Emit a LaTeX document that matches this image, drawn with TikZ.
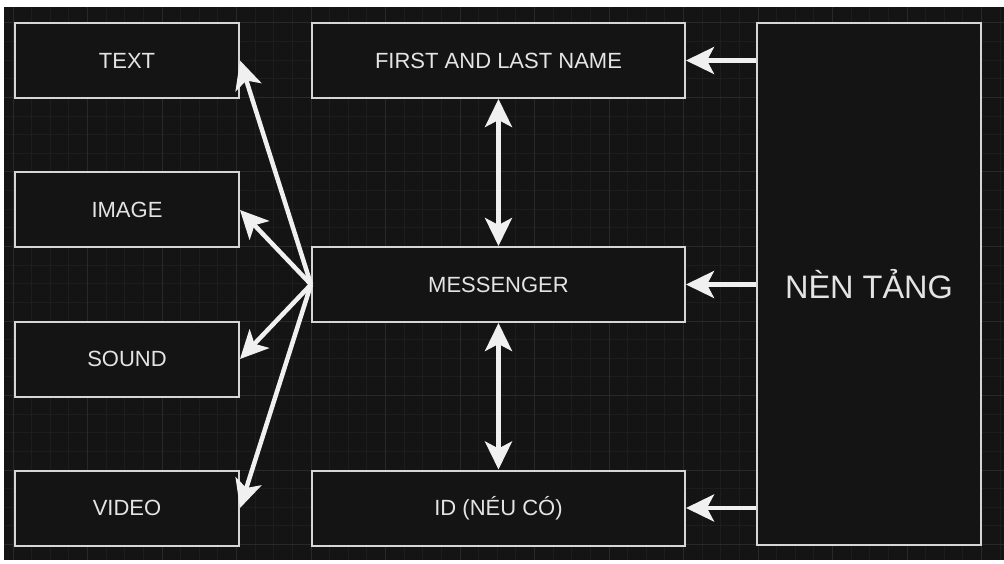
\documentclass[tikz,border=0pt]{standalone}
\usepackage{fontspec}
\setmainfont{Liberation Sans}
\usetikzlibrary{arrows.meta}

\definecolor{bgdark}{HTML}{141414}
\definecolor{gridminor}{HTML}{1D1D1D}
\definecolor{gridmajor}{HTML}{292929}
\definecolor{boxline}{HTML}{D6D6D6}
\definecolor{labelgray}{HTML}{E4E4E4}
\definecolor{arrowwhite}{HTML}{F0F0F0}

\tikzset{
    box/.style={draw=boxline, line width=2pt, fill=bgdark, text=labelgray,
        minimum width=224pt, minimum height=75pt, inner sep=0pt,
        font=\fontsize{22}{26}\selectfont},
    widebox/.style={box, minimum width=373pt},
    tallbox/.style={box, minimum height=522pt, font=\fontsize{32.5}{38}\selectfont},
    tip/.tip={Stealth[length=28pt, width=27pt, inset=7pt]},
    arr/.style={draw=arrowwhite, line width=4.5pt, -tip},
    darr/.style={draw=arrowwhite, line width=4.5pt, tip-tip}
}

\begin{document}
\begin{tikzpicture}[x=1pt, y=-1pt]
    \useasboundingbox (0,0) rectangle (1004,564);
    \fill[white] (0,0) rectangle (1004,564);
    \fill[bgdark] (4,7) rectangle (1004,560);

    % grid
    \begin{scope}
        \clip (4,7) rectangle (1004,560);
        \foreach \gx in {13,31.625,...,1004}
            \draw[gridminor, line width=1pt] (\gx,7) -- (\gx,560);
        \foreach \gy in {23,41.625,...,560}
            \draw[gridminor, line width=1pt] (4,\gy) -- (1004,\gy);
        \foreach \gx in {13,87.5,...,1004}
            \draw[gridmajor, line width=1pt] (\gx,7) -- (\gx,560);
        \foreach \gy in {23,97.5,...,560}
            \draw[gridmajor, line width=1pt] (4,\gy) -- (1004,\gy);
    \end{scope}

    % left column
    \node[box] (text)  at (127,60.5) {TEXT};
    \node[box] (image) at (127,210)  {IMAGE};
    \node[box] (sound) at (127,359)  {SOUND};
    \node[box] (video) at (127,508)  {VIDEO};

    % middle column
    \node[widebox] (name) at (498.5,60.5) {FIRST AND LAST NAME};
    \node[widebox] (msg)  at (498.5,284.5) {MESSENGER};
    \node[widebox] (id)   at (498.5,508)  {ID (NÉU CÓ)};

    % right
    \node[tallbox] (base) at (869,284) {NÈN TẢNG};

    \draw[arr] (msg.west) -- (text.east);
    \draw[arr] (msg.west) -- (image.east);
    \draw[arr] (msg.west) -- (sound.east);
    \draw[arr] (msg.west) -- (video.east);

    \draw[darr] (name.south) -- (msg.north);
    \draw[darr] (msg.south) -- (id.north);

    \draw[arr] (base.west |- name.east) -- (name.east);
    \draw[arr] (base.west |- msg.east) -- (msg.east);
    \draw[arr] (base.west |- id.east) -- (id.east);
\end{tikzpicture}
\end{document}
